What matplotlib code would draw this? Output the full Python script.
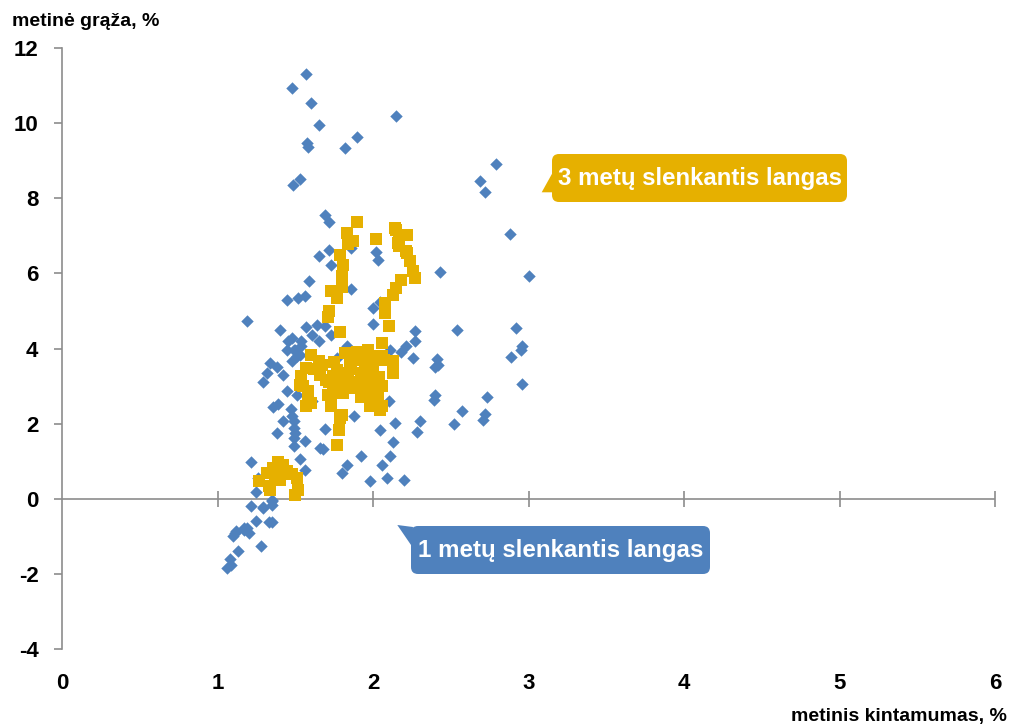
#!/usr/bin/env python3
"""Scatter: annual return vs annual volatility, 1y and 3y rolling windows."""
import matplotlib
matplotlib.use("Agg")
import matplotlib.pyplot as plt
from matplotlib.patches import FancyBboxPatch, Polygon
from matplotlib.transforms import IdentityTransform

FONT = ["Liberation Sans Narrow", "Liberation Sans", "DejaVu Sans"]
plt.rcParams["font.family"] = FONT
plt.rcParams["font.weight"] = "bold"
plt.rcParams["axes.unicode_minus"] = False

BLUE = "#4F81BD"
GOLD = "#E6B000"
GRAY = "#8C8C8C"

# 1 metų slenkantis langas (x: kintamumas, y: grąža)
one_year_x = [
    1.57, 1.477, 1.60, 1.65, 1.576, 1.58, 1.82, 1.90, 2.15, 1.53, 1.485, 1.69, 1.72,
    2.79, 2.69, 2.72, 2.88, 1.65, 1.72, 1.73, 1.86, 2.02, 2.03, 1.86, 1.59, 1.52,
    1.56, 1.445, 2.43, 3.00, 2.00, 2.045, 1.19, 1.40, 1.57, 1.64, 1.61, 1.69, 1.65,
    1.73, 2.00, 2.27, 2.27, 2.54, 2.92, 2.96, 2.95, 2.89, 2.21, 2.18, 2.26, 2.41,
    2.40, 2.42, 2.96, 1.455, 1.49, 1.445, 1.54, 1.51, 1.48, 1.48, 1.54, 1.50, 1.53,
    1.34, 1.38, 1.32, 1.42, 1.29, 1.445, 1.51, 2.11, 1.77, 1.83, 2.40, 2.39, 2.73,
    2.57, 2.30, 2.28, 2.52, 2.72, 2.71, 2.10, 2.14, 2.13, 2.11, 2.06, 2.09, 2.20,
    2.045, 1.39, 1.36, 1.47, 1.48, 1.49, 1.49, 1.50, 1.49, 1.49, 1.42, 1.38, 1.56,
    1.53, 1.56, 1.215, 1.26, 1.25, 1.35, 1.29, 1.215, 1.25, 1.33, 1.35, 1.17, 1.20,
    1.11, 1.10, 1.28, 1.13, 1.08, 1.06, 1.69, 1.66, 1.68, 1.88, 1.92, 1.83, 1.80,
    1.98, 1.61, 1.35, 1.35, 1.12, 1.17, 1.19, 1.09, 1.29,
]
one_year_y = [
    11.31, 10.94, 10.54, 9.94, 9.47, 9.36, 9.33, 9.63, 10.20, 8.50, 8.34, 7.56, 7.38,
    8.92, 8.45, 8.16, 7.05, 6.45, 6.63, 6.23, 6.67, 6.57, 6.36, 5.58, 5.80, 5.34,
    5.41, 5.28, 6.03, 5.94, 5.08, 5.25, 4.74, 4.50, 4.56, 4.63, 4.37, 4.61, 4.19,
    4.37, 4.65, 4.47, 4.19, 4.50, 4.55, 4.06, 3.95, 3.77, 4.06, 3.90, 3.76, 3.72,
    3.52, 3.57, 3.06, 4.19, 3.97, 3.95, 4.19, 3.79, 3.66, 4.28, 4.06, 3.97, 3.83,
    3.61, 3.52, 3.36, 3.30, 3.10, 2.86, 2.77, 3.97, 3.75, 4.06, 2.77, 2.64, 2.71,
    2.33, 2.08, 1.79, 2.00, 2.26, 2.09, 2.59, 2.02, 1.51, 1.15, 0.91, 0.55, 0.51,
    1.84, 2.53, 2.44, 2.39, 2.19, 2.06, 1.88, 1.75, 1.62, 1.41, 2.06, 1.75, 1.54,
    1.06, 0.77, 0.97, 0.55, 0.19, -0.03, -0.22, -0.19, -0.58, -0.63, -0.63, -0.78, -0.91,
    -0.91, -1.00, -1.27, -1.38, -1.60, -1.85, 1.86, 1.35, 1.32, 2.19, 1.15, 0.91, 0.68,
    0.46, 2.59, -0.07, -0.16, -0.87, -0.83, -0.78, -1.76, -0.25,
]

# 3 metų slenkantis langas
three_year_x = [
    1.895, 1.83, 1.87, 1.84, 1.79, 1.81, 1.80, 1.80, 1.73, 1.77, 1.72, 1.71, 1.79, 2.02,
    2.15, 2.14, 2.17, 2.22, 2.17, 2.16, 2.22, 2.21, 2.24, 2.26, 2.27, 2.18, 2.15, 2.13,
    2.08, 2.08, 2.10, 2.06,
    1.60, 1.65, 1.57, 1.54, 1.53, 1.58, 1.60, 1.70, 1.71, 1.55, 1.58, 1.57, 1.82, 1.87,
    1.97, 1.895, 1.94, 2.02, 2.00, 1.95, 1.85, 1.77, 1.84, 1.81, 1.96, 2.02, 1.77, 1.92,
    2.02, 2.07, 2.13, 2.13, 2.13, 2.06, 2.06, 2.06, 1.72, 1.745, 1.745, 1.82, 1.92, 1.99,
    2.03, 1.94, 1.98, 1.81, 1.73, 1.80, 2.045, 1.745, 1.73, 1.79, 1.78, 1.77, 1.92, 2.00,
    2.045, 1.62, 1.66, 1.90, 1.88, 1.98, 1.86, 2.04, 1.93, 1.67, 1.75, 1.78,
    1.39, 1.36, 1.32, 1.27, 1.33, 1.445, 1.51, 1.52, 1.50, 1.40, 1.34, 1.48, 1.37, 1.42,
]
three_year_y = [
    7.38, 7.07, 6.85, 6.78, 6.50, 6.23, 5.92, 5.65, 5.52, 5.34, 4.99, 4.85, 4.43, 6.91,
    7.16, 7.21, 6.98, 7.03, 6.72, 6.81, 6.54, 6.59, 6.32, 6.05, 5.88, 5.83, 5.61, 5.43,
    5.21, 4.95, 4.61, 4.15,
    3.83, 3.66, 3.48, 3.26, 3.04, 2.86, 2.55, 3.17, 2.77, 2.99, 2.64, 2.46, 3.88, 3.70,
    3.97, 3.92, 3.75, 3.79, 3.52, 3.57, 3.57, 3.43, 3.35, 3.08, 3.26, 3.08, 2.81, 2.81,
    2.77, 3.70, 3.52, 3.35, 3.66, 3.79, 2.99, 2.46, 3.12, 3.26, 2.86, 3.17, 3.35, 3.39,
    2.77, 2.72, 2.46, 2.81, 2.46, 2.24, 2.37, 2.99, 2.50, 2.15, 1.84, 1.44, 2.72, 2.99,
    2.46, 3.45, 3.30, 3.10, 2.95, 3.65, 3.45, 3.25, 3.05, 3.55, 3.65, 3.00,
    0.99, 0.82, 0.68, 0.46, 0.33, 0.73, 0.55, 0.24, 0.11, 0.51, 0.24, 0.65, 0.60, 0.90,
]

x_ticks = [0, 1, 2, 3, 4, 5, 6]
y_ticks = [-4, -2, 0, 2, 4, 6, 8, 10, 12]
x_label = "metinis kintamumas, %"
y_label = "metinė grąža, %"
label_1y = "1 metų slenkantis langas"
label_3y = "3 metų slenkantis langas"

W, H = 1011, 728


def px(x, y):
    """Top-origin pixel -> display coords (dpi=100)."""
    return x, H - y


def callout(fig, box, tip_poly, color, text, text_width):
    x0, y0, x1, y1 = box
    bx, by = px(x0, y1)
    patch = FancyBboxPatch((bx, by), x1 - x0, y1 - y0,
                           boxstyle="round,pad=0,rounding_size=7",
                           transform=IdentityTransform(), facecolor=color,
                           edgecolor="none", zorder=5)
    fig.patches.append(patch)
    tri = Polygon([px(*p) for p in tip_poly], closed=True,
                  transform=IdentityTransform(), facecolor=color,
                  edgecolor="none", zorder=5)
    fig.patches.append(tri)
    cx, cy = px((x0 + x1) / 2, (y0 + y1) / 2 + 1)
    t = fig.text(cx / W, cy / H, text, color="white", fontsize=20,
                 fontweight="bold", ha="center", va="center", zorder=6)
    # shrink to the width of the original label (no narrow font installed)
    r = fig.canvas.get_renderer()
    w = t.get_window_extent(r).width
    if w > text_width:
        t.set_fontsize(20 * text_width / w)


fig = plt.figure(figsize=(W / 100, H / 100), dpi=100)
ax = fig.add_axes([62 / W, 1 - 649 / H, (995 - 62) / W, (649 - 48) / H])

ax.scatter(one_year_x, one_year_y, marker="D", s=40, color=BLUE,
           linewidths=0, zorder=3, clip_on=False)
ax.scatter(three_year_x, three_year_y, marker="s", s=74, color=GOLD,
           linewidths=0, zorder=4, clip_on=False)

ax.set_xlim(x_ticks[0], x_ticks[-1])
ax.set_ylim(y_ticks[0], y_ticks[-1])
ax.set_xticks(x_ticks)
ax.set_yticks(y_ticks)

for side in ["top", "right", "bottom"]:
    ax.spines[side].set_visible(False)
ax.spines["left"].set_color(GRAY)
ax.spines["left"].set_linewidth(1.2)

# x axis line sits at y = 0, labels stay at the bottom
ax.axhline(0, color=GRAY, linewidth=1.2, zorder=2)
ax.plot(x_ticks[1:], [0] * (len(x_ticks) - 1), linestyle="none", marker="|",
        markersize=11.5, markeredgewidth=1.2, color=GRAY, zorder=2, clip_on=False)

ax.tick_params(axis="y", direction="out", length=6, width=1.2, color=GRAY,
               labelsize=16, pad=11)
ax.tick_params(axis="x", length=0, labelsize=16, pad=17)
for lab in ax.get_xticklabels() + ax.get_yticklabels():
    lab.set_fontweight("bold")

fig.text(12 / W, 1 - 21 / H, y_label, fontsize=14, fontweight="bold",
         ha="left", va="center")
fig.text(1007 / W, 1 - 716 / H, x_label, fontsize=14, fontweight="bold",
         ha="right", va="center")

callout(fig, (552, 154, 847, 202), [(541.7, 192.3), (553, 172), (553, 192.3)],
        GOLD, label_3y, 283)
callout(fig, (411, 526, 710, 574), [(397.3, 525), (413, 527), (411, 545)],
        BLUE, label_1y, 285)

fig.savefig("out.png", dpi=100)
